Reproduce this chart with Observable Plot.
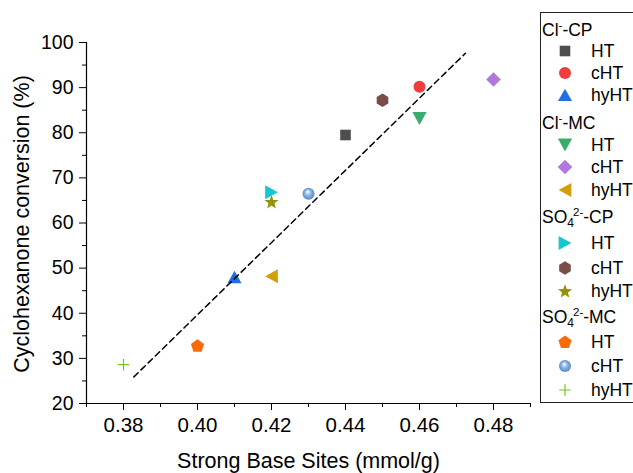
<!DOCTYPE html>
<html>
<head>
<meta charset="utf-8">
<script src="https://cdn.jsdelivr.net/npm/d3@7"></script>
<script src="https://cdn.jsdelivr.net/npm/@observablehq/plot@0.6"></script>
<style>
  html, body { margin: 0; padding: 0; background: #fff; }
  #wrap { position: relative; width: 633px; height: 473px; overflow: hidden; font-family: "Liberation Sans", Arial, sans-serif; color: #000; }
  #chart { position: absolute; left: 0; top: 0; }
  #legend { position: absolute; left: 540px; top: 12px; width: 110px; height: 391px; border: 1px solid #222; box-sizing: border-box; font-size: 17.5px; background: #fff; }
  .row { position: absolute; white-space: nowrap; line-height: 20px; height: 20px; }
  .row svg { position: absolute; left: 14px; top: 0px; overflow: visible; }
  .sup { font-size: 11.5px; position: relative; }
  .sub { font-size: 12px; position: relative; }
</style>
</head>
<body>
<div id="wrap">
  <svg width="0" height="0" style="position:absolute">
    <defs>
      <radialGradient id="ball" cx="0.5" cy="0.5" r="0.55" fx="0.42" fy="0.33">
        <stop offset="0" stop-color="#ffffff"/>
        <stop offset="0.18" stop-color="#d4e4f6"/>
        <stop offset="0.5" stop-color="#82b0e0"/>
        <stop offset="0.85" stop-color="#5e92cc"/>
        <stop offset="1" stop-color="#4f7fbb"/>
      </radialGradient>
    </defs>
  </svg>
  <div id="chart"></div>
  <div id="legend"></div>
</div>
<script>
// ---------------- data ----------------
const series = ["Cl-CP", "Cl-MC", "SO4-CP", "SO4-MC"];
const treatments = ["HT", "cHT", "hyHT"];
// one value per series × treatment, in the order above
const strongBaseSites = [0.44, 0.46, 0.41,  0.46, 0.48, 0.42,  0.42, 0.45, 0.42,  0.40, 0.43, 0.38];
const conversion      = [79.5, 90.2, 48.0,  83.2, 91.8, 48.2,  66.8, 87.2, 64.7,  32.8, 66.5, 28.6];
// linear fit (dashed line) end points
const fitX = [0.3828, 0.4724];
const fitY = [25.9, 97.6];
// axes
const xTicks = [0.38, 0.40, 0.42, 0.44, 0.46, 0.48];
const xMinor = [0.37, 0.39, 0.41, 0.43, 0.45, 0.47, 0.49];
const yTicks = [20, 30, 40, 50, 60, 70, 80, 90, 100];
const yMinor = [25, 35, 45, 55, 65, 75, 85, 95];
const xTitle = "Strong Base Sites (mmol/g)";
const yTitle = "Cyclohexanone conversion (%)";

// ---------------- symbols (style) ----------------
function poly(pts) {
  return { draw(ctx, size) {
    const k = Math.sqrt(size / Math.PI) / 6;
    pts.forEach(([x, y], i) => i ? ctx.lineTo(x * k, y * k) : ctx.moveTo(x * k, y * k));
    ctx.closePath();
  }};
}
function regular(n, R, innerR) {
  const pts = [];
  const m = innerR ? 2 * n : n;
  for (let i = 0; i < m; i++) {
    const a = -Math.PI / 2 + i * 2 * Math.PI / m;
    const rr = innerR && i % 2 ? innerR : R;
    pts.push([rr * Math.cos(a), rr * Math.sin(a)]);
  }
  return pts;
}
const symCircle = { draw(ctx, size) { const r = Math.sqrt(size / Math.PI); ctx.moveTo(r, 0); ctx.arc(0, 0, r, 0, 2 * Math.PI); } };
const symSquare = poly([[-5.3, -5.3], [5.3, -5.3], [5.3, 5.3], [-5.3, 5.3]]);
const symTriUp = poly([[0, -6.3], [7, 6.1], [-7, 6.1]]);
const symTriDown = poly([[0, 6.6], [7.1, -6.4], [-7.1, -6.4]]);
const symTriLeft = poly([[-6.4, 0], [6.4, -7], [6.4, 7]]);
const symTriRight = poly([[6.4, 0], [-6.4, -7], [-6.4, 7]]);
const symDiamond = poly([[0, -7.3], [7.3, 0], [0, 7.3], [-7.3, 0]]);
const symHexagon = poly(regular(6, 6.7));
const symPentagon = poly(regular(5, 6.9).map(([x, y]) => [x, y + 0.4]));
const symStar = poly(regular(5, 7.4, 3.1).map(([x, y]) => [x, y + 0.6]));
const symPlus = { draw(ctx, size) { const k = Math.sqrt(size / Math.PI) / 6 * 5.7; ctx.moveTo(-k, 0); ctx.lineTo(k, 0); ctx.moveTo(0, -k); ctx.lineTo(0, k); } };

const markerStyles = [
  { symbol: symSquare,   fill: "#4e4e4e" },
  { symbol: symCircle,   fill: "#f03c3d" },
  { symbol: symTriUp,    fill: "#1f6fe0" },
  { symbol: symTriDown,  fill: "#38ad6a" },
  { symbol: symDiamond,  fill: "#b277df" },
  { symbol: symTriLeft,  fill: "#d39e09" },
  { symbol: symTriRight, fill: "#14c8d0" },
  { symbol: symHexagon,  fill: "#7a4d4b" },
  { symbol: symStar,     fill: "#93930a" },
  { symbol: symPentagon, fill: "#fc6a06" },
  { symbol: symCircle,   fill: "url(#ball)" },
  { symbol: symPlus,     fill: "none", stroke: "#74c21e", strokeWidth: 1.2 }
];

// ---------------- table ----------------
const points = strongBaseSites.map((x, i) => ({
  series: series[Math.floor(i / 3)],
  treatment: treatments[i % 3],
  x,
  y: conversion[i]
}));
const fit = fitX.map((x, i) => ({ x, y: fitY[i] }));

const dotMarks = points.map((p, i) => {
  const s = markerStyles[i];
  return Plot.dot([p], { x: "x", y: "y", r: 6, symbol: s.symbol, fill: s.fill, stroke: s.stroke || "none", strokeWidth: s.strokeWidth || 0 });
});

const chart = Plot.plot({
  width: 540,
  height: 473,
  marginLeft: 86,
  marginRight: 10,
  marginTop: 42,
  marginBottom: 70,
  style: { fontFamily: "'Liberation Sans', Arial, sans-serif", color: "#000", background: "transparent", overflow: "visible" },
  x: { domain: [0.37, 0.49] },
  y: { domain: [20, 100] },
  marks: [
    Plot.axisX(xTicks, { tickSize: 7, tickPadding: 7, tickFormat: d3.format(".2f"), fontSize: 20.5, label: null, stroke: "#000", strokeWidth: 1 }),
    Plot.axisX(xMinor, { tickSize: 4, tickFormat: () => "", label: null, stroke: "#000", strokeWidth: 1 }),
    Plot.axisY(yTicks, { tickSize: 7, tickPadding: 6, fontSize: 19.5, label: null, stroke: "#000", strokeWidth: 1 }),
    Plot.axisY(yMinor, { tickSize: 4, tickFormat: () => "", label: null, stroke: "#000", strokeWidth: 1 }),
    Plot.ruleY([20], { stroke: "#000", strokeWidth: 1.2 }),
    Plot.ruleX([0.37], { stroke: "#000", strokeWidth: 1.2 }),
    Plot.text([xTitle], { frameAnchor: "bottom", textAnchor: "middle", lineAnchor: "top", dy: 49, fontSize: 21.5, fill: "#000" }),
    Plot.text([yTitle], { frameAnchor: "left", textAnchor: "middle", rotate: -90, lineAnchor: "top", dx: -73, dy: 1, fontSize: 21.5, fill: "#000" }),
    ...dotMarks,
    Plot.line(fit, { x: "x", y: "y", stroke: "#000", strokeWidth: 1.5, strokeDasharray: "6,4" })
  ]
});
document.getElementById("chart").appendChild(chart);

// ---------------- legend ----------------
function seriesLabel(name) {
  const [ion, kind] = name.split("-");
  if (ion === "Cl") return `Cl<span class="sup" style="top:-7px">-</span>-${kind}`;
  return `SO<span class="sub" style="top:4px">4</span><span class="sup" style="top:-7px;margin-left:-1px">2-</span>-${kind}`;
}
// vertical layout of legend rows (cap-middle positions, px)
const legendCenters = [29.5, 50.3, 72.7, 95, 123, 145, 167, 189.5, 217, 242.5, 267.5, 290.5, 316.5, 342, 366, 390];
const legend = document.getElementById("legend");
const originY = 13;
let r = 0;
series.forEach((s, si) => {
  const h = document.createElement("div");
  h.className = "row";
  h.style.left = "1px";
  h.style.top = (legendCenters[r++] - 9.8 - originY) + "px";
  h.innerHTML = seriesLabel(s);
  legend.appendChild(h);
  treatments.forEach((t, ti) => {
    const i = si * 3 + ti;
    const st = markerStyles[i];
    const row = document.createElement("div");
    row.className = "row";
    row.style.left = "0px";
    row.style.width = "100px";
    row.style.top = (legendCenters[r++] - 9.8 - originY) + "px";
    const p = d3.path();
    st.symbol.draw(p, 36 * Math.PI);
    row.innerHTML = `<svg width="20" height="20"><path transform="translate(10,10)" d="${p.toString()}" fill="${st.fill}" stroke="${st.stroke || "none"}" stroke-width="${st.strokeWidth || 0}"/></svg><span style="position:absolute;left:50px">${t}</span>`;
    legend.appendChild(row);
  });
});
</script>
</body>
</html>
